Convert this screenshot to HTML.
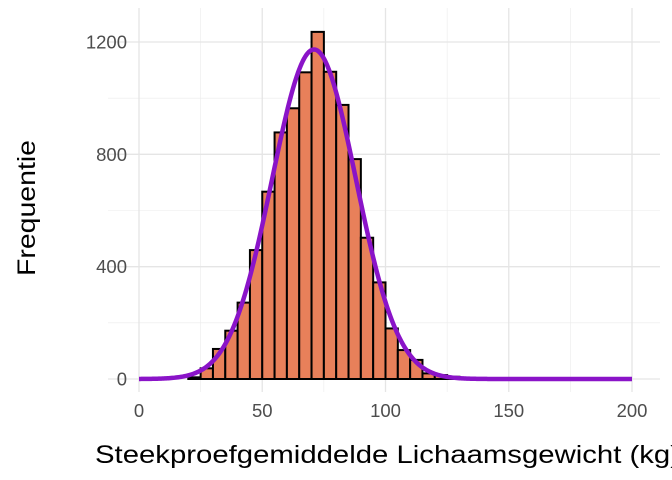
<!DOCTYPE html>
<html><head><meta charset="utf-8"><style>
body{margin:0;background:#fff}
svg{display:block;font-family:"Liberation Sans",sans-serif}
</style></head><body>
<svg id="c" width="672" height="480"></svg>
<script>
const binStarts=[20,25,30,35,40,45,50,55,60,65,70,75,80,85,90,95,100,105,110,115,120,125];
const counts=[6,38,107,172,272,459,667,878,964,1092,1236,1094,976,783,503,344,180,103,68,20,14,8];
const binWidth=5;
const curveMean=71, curveSd=17, curveN=10000;
const xTicks=[0,50,100,150,200];
const yTicks=[0,400,800,1200];
const NS="http://www.w3.org/2000/svg";
const svg=document.getElementById('c');
const X=v=>139+v*(632-139)/200;
const Y=v=>379-v*(379-42)/1200;
function mk(t,a){const e=document.createElementNS(NS,t);for(const k in a)e.setAttribute(k,a[k]);svg.appendChild(e);return e;}
const L=108,R=660,T=8,B=392;
for(let v=25;v<=200;v+=50){const g=mk('line',{x1:X(v),x2:X(v),y1:T,y2:B,stroke:'#ebebeb','stroke-width':0.6});
}
for(let v=200;v<=1200;v+=400){const g=mk('line',{x1:L,x2:R,y1:Y(v),y2:Y(v),stroke:'#ebebeb','stroke-width':0.6});
}
xTicks.forEach(v=>{const g=mk('line',{x1:X(v),x2:X(v),y1:T,y2:B,stroke:'#e5e5e5','stroke-width':1.3});

const t=mk('text',{x:X(v),y:417,'text-anchor':'middle','font-size':18.5,fill:'#4d4d4d'});t.textContent=v;
});
yTicks.forEach(v=>{const g=mk('line',{x1:L,x2:R,y1:Y(v),y2:Y(v),stroke:'#e5e5e5','stroke-width':1.3});

const t=mk('text',{x:127,y:Y(v)+6.5,'text-anchor':'end','font-size':18.5,fill:'#4d4d4d'});t.textContent=v;
});
binStarts.forEach((s,i)=>{const r=mk('rect',{x:X(s),y:Y(counts[i]),width:X(s+binWidth)-X(s),height:Y(0)-Y(counts[i]),fill:'#e8805a',stroke:'#000','stroke-width':2});
});
let d='';for(let v=0;v<=200;v+=0.5){const dens=curveN*binWidth/(curveSd*Math.sqrt(2*Math.PI))*Math.exp(-0.5*((v-curveMean)/curveSd)**2);d+=(v?'L':'M')+X(v).toFixed(2)+','+Y(dens).toFixed(2);}
const p=mk('path',{d:d,fill:'none',stroke:'#8a14c8','stroke-width':4.5,'stroke-linejoin':'round'});

const xt=mk('text',{x:95,y:463,'font-size':25,fill:'#000',textLength:585,lengthAdjust:'spacingAndGlyphs'});xt.textContent='Steekproefgemiddelde Lichaamsgewicht (kg)';

const yt=mk('text',{x:-276,y:35,'font-size':25,fill:'#000',transform:'rotate(-90)',textLength:136,lengthAdjust:'spacingAndGlyphs'});yt.textContent='Frequentie';

</script>
</body></html>
